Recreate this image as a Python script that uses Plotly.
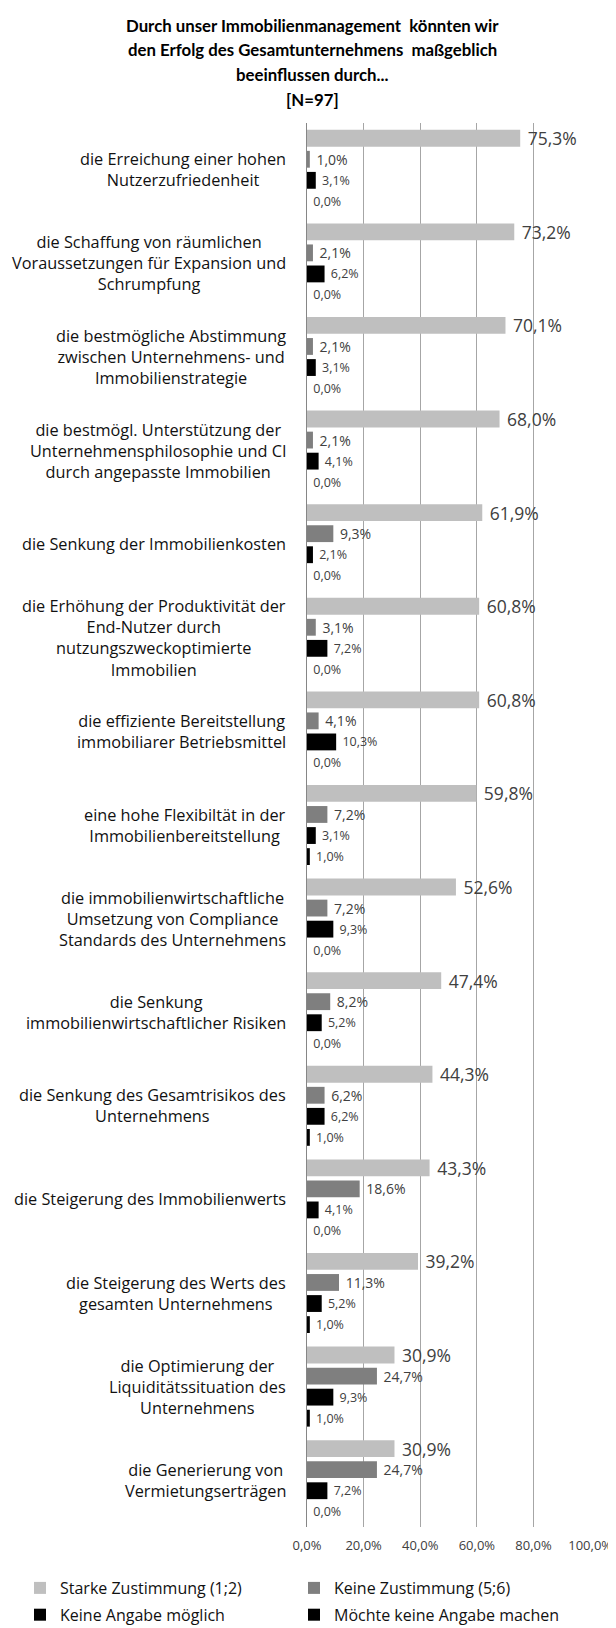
import plotly.graph_objects as go

# Categories (top to bottom) and series values in percent
categories = [
    "die Erreichung einer hohen<br>Nutzerzufriedenheit",
    "die Schaffung von räumlichen<br>Voraussetzungen für Expansion und<br>Schrumpfung",
    "die bestmögliche Abstimmung<br>zwischen Unternehmens- und<br>Immobilienstrategie",
    "die bestmögl. Unterstützung der<br>Unternehmensphilosophie und CI<br>durch angepasste Immobilien",
    "die Senkung der Immobilienkosten",
    "die Erhöhung der Produktivität der<br>End-Nutzer durch<br>nutzungszweckoptimierte<br>Immobilien",
    "die effiziente Bereitstellung<br>immobiliarer Betriebsmittel",
    "eine hohe Flexibiltät in der<br>Immobilienbereitstellung",
    "die immobilienwirtschaftliche<br>Umsetzung von Compliance<br>Standards des Unternehmens",
    "die Senkung<br>immobilienwirtschaftlicher Risiken",
    "die Senkung des Gesamtrisikos des<br>Unternehmens",
    "die Steigerung des Immobilienwerts",
    "die Steigerung des Werts des<br>gesamten Unternehmens",
    "die Optimierung der<br>Liquiditätssituation des<br>Unternehmens",
    "die Generierung von<br>Vermietungserträgen",
]

starke_zustimmung = [75.3, 73.2, 70.1, 68.0, 61.9, 60.8, 60.8, 59.8, 52.6, 47.4, 44.3, 43.3, 39.2, 30.9, 30.9]
keine_zustimmung = [1.0, 2.1, 2.1, 2.1, 9.3, 3.1, 4.1, 7.2, 7.2, 8.2, 6.2, 18.6, 11.3, 24.7, 24.7]
keine_angabe_moeglich = [3.1, 6.2, 3.1, 4.1, 2.1, 7.2, 10.3, 3.1, 9.3, 5.2, 6.2, 4.1, 5.2, 9.3, 7.2]
keine_angabe_machen = [0.0, 0.0, 0.0, 0.0, 0.0, 0.0, 0.0, 1.0, 0.0, 0.0, 1.0, 0.0, 1.0, 1.0, 0.0]

series_names = [
    "Starke Zustimmung (1;2)",
    "Keine Zustimmung (5;6)",
    "Keine Angabe möglich",
    "Möchte keine Angabe machen",
]

title_lines = [
    "Durch unser Immobilienmanagement  könnten wir",
    "den Erfolg des Gesamtunternehmens  maßgeblich",
    "beeinflussen durch...",
    "[N=97]",
]

x_ticks = [0, 0.2, 0.4, 0.6, 0.8, 1.0]

FONT = "Open Sans"
TXT = "#404040"

# page body has an 8px default margin, so the figure is a bit smaller
W, H = 608, 1620
ML, MR, MT, MB = 299, 25, 115, 101
PLOT_W = W - ML - MR
PLOT_H = H - MT - MB

series = [starke_zustimmung, keine_zustimmung, keine_angabe_moeglich, keine_angabe_machen]
colors = ["#BFBFBF", "#7F7F7F", "#000000", "#000000"]
label_sizes = [17.5, 14, 12.5, 12.5]
# two legend columns: left = series 0 and 2, right = series 1 and 3
legend_ids = ["legend", "legend2", "legend", "legend2"]

fig = go.Figure()
for i, (name, vals, col, fs) in enumerate(zip(series_names, series, colors, label_sizes)):
    fig.add_trace(go.Bar(
        y=categories,
        x=[v / 100 for v in vals],
        name=name,
        orientation="h",
        marker=dict(color=col, line=dict(width=0)),
        texttemplate="\u00a0%{x:.1%}",
        textposition="outside",
        constraintext="none",
        textfont=dict(family=FONT, size=fs, color=TXT),
        cliponaxis=False,
        legend=legend_ids[i],
        legendgroup=str(i),
    ))

# category labels, centred lines like the original
for cat in categories:
    fig.add_annotation(
        xref="paper", x=0, xshift=-19, xanchor="right",
        yref="y", y=cat, yanchor="middle",
        text=cat, showarrow=False, align="center",
        font=dict(family=FONT, size=16.3, color="#111111"),
    )

# title lines
for k, line in enumerate(title_lines):
    yc = [17, 41.5, 66, 91][k]
    fig.add_annotation(
        xref="paper", x=(W / 2 - ML) / PLOT_W, xanchor="center",
        yref="paper", y=1 + (MT - yc) / PLOT_H, yanchor="middle",
        text="<b>" + line + "</b>", showarrow=False,
        font=dict(family="Lato", size=16.8, color="#000000"),
    )

legend_common = dict(
    orientation="v",
    xanchor="left",
    yref="container", y=(H - 1563) / H, yanchor="top",
    itemwidth=30,
    tracegroupgap=3,
    font=dict(family=FONT, size=16, color="#111111"),
    bgcolor="rgba(0,0,0,0)",
)

fig.update_layout(
    width=W,
    height=H,
    margin=dict(l=ML, r=MR, t=MT, b=MB, autoexpand=False),
    paper_bgcolor="white",
    plot_bgcolor="white",
    separators=",.",
    barmode="group",
    bargap=0.1,
    bargroupgap=0.2,
    font=dict(family=FONT, color=TXT),
    legend=dict(xref="container", x=12 / W, **legend_common),
    legend2=dict(xref="container", x=286 / W, **legend_common),
    showlegend=True,
)

fig.update_xaxes(
    range=[0, 1.003],
    tickvals=x_ticks,
    tickformat=".1%",
    showgrid=True,
    gridcolor="#A6A6A6",
    gridwidth=1,
    zeroline=False,
    showline=False,
    ticks="",
    ticklabelstandoff=9,
    tickfont=dict(family=FONT, size=13, color=TXT),
)
fig.update_yaxes(
    autorange="reversed",
    showticklabels=False,
    showgrid=False,
    showline=True,
    linecolor="#868686",
    linewidth=1,
    ticks="",
)

fig.write_html("out.html")
